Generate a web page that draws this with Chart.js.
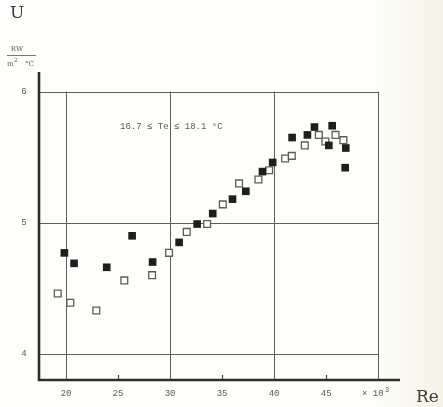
<!DOCTYPE html>
<html>
<head>
<meta charset="utf-8">
<script src="https://cdn.jsdelivr.net/npm/chart.js@4/dist/chart.umd.min.js"></script>
<style>
  html, body { margin: 0; padding: 0; }
  body {
    width: 443px; height: 407px; overflow: hidden;
    background: linear-gradient(to right, #fdfdfb 0%, #fdfdfa 85%, #f9f7ee 93%, #f7f4e7 100%);
  }
  #wrap { position: relative; width: 443px; height: 407px; }
  canvas { display: block; }
</style>
</head>
<body>
<div id="wrap"><canvas id="c" width="443" height="407"></canvas></div>
<script>
// Heat transfer coefficient U versus Reynolds number (x 10^3)
const filledRe = [19.84, 20.77, 23.91, 26.35, 28.32, 30.87, 32.6, 34.1, 36.0, 37.28, 38.88, 39.86, 41.73, 43.2, 43.88, 45.26, 45.58, 46.89, 46.83];
const filledU  = [4.77, 4.69, 4.66, 4.90, 4.70, 4.85, 4.99, 5.07, 5.18, 5.24, 5.39, 5.46, 5.65, 5.67, 5.73, 5.59, 5.74, 5.57, 5.42];
const openRe   = [19.2, 20.41, 22.91, 25.6, 28.27, 29.9, 31.6, 33.56, 35.07, 36.63, 38.49, 39.52, 41.06, 41.7, 42.95, 44.3, 44.93, 45.9, 46.66];
const openU    = [4.46, 4.39, 4.33, 4.56, 4.60, 4.77, 4.93, 4.99, 5.14, 5.30, 5.33, 5.40, 5.49, 5.51, 5.59, 5.67, 5.62, 5.67, 5.63];

const xTickLabels = [20, 25, 30, 35, 40, 45];
const yTickLabels = [4, 5, 6];
const xGridValues = [20, 30, 40, 50];
const xMinorTicks = [25, 35, 45];
const annotationText = '16.7 \u2264 Te \u2264 18.1 \u00B0C';

const toPoints = (xs, ys) => xs.map((x, i) => ({ x: x, y: ys[i] }));

const monoFont = '9px "Liberation Mono", "DejaVu Sans Mono", monospace';
const serifFont = '"DejaVu Serif", "Liberation Serif", serif';

const framePlugin = {
  id: 'frame',
  beforeDatasetsDraw(chart) {
    const { ctx } = chart;
    const xs = chart.scales.x, ys = chart.scales.y;
    const gridTop = ys.getPixelForValue(6);
    const gridRight = xs.getPixelForValue(50);
    const axisX = xs.left, axisY = ys.bottom;
    ctx.save();
    // grid box
    ctx.strokeStyle = '#5e5e5e';
    ctx.lineWidth = 1;
    xGridValues.forEach(v => {
      const px = Math.round(xs.getPixelForValue(v)) + 0.5;
      ctx.beginPath(); ctx.moveTo(px, gridTop); ctx.lineTo(px, axisY); ctx.stroke();
    });
    yTickLabels.forEach(v => {
      const py = Math.round(ys.getPixelForValue(v)) + 0.5;
      ctx.beginPath(); ctx.moveTo(axisX, py); ctx.lineTo(gridRight + 1, py); ctx.stroke();
    });
    // minor ticks on the x axis
    ctx.strokeStyle = '#444';
    ctx.lineWidth = 1.2;
    xMinorTicks.forEach(v => {
      const px = Math.round(xs.getPixelForValue(v)) + 0.5;
      ctx.beginPath(); ctx.moveTo(px, axisY - 5); ctx.lineTo(px, axisY); ctx.stroke();
    });
    // thick axes
    ctx.strokeStyle = '#2e2e2e';
    ctx.lineWidth = 2.6;
    ctx.beginPath(); ctx.moveTo(axisX, ys.top); ctx.lineTo(axisX, axisY); ctx.lineTo(xs.right, axisY); ctx.stroke();
    ctx.restore();
  },
  afterDraw(chart) {
    const { ctx } = chart;
    const xs = chart.scales.x, ys = chart.scales.y;
    ctx.save();
    ctx.fillStyle = '#5a5a5a';
    ctx.font = monoFont;
    ctx.textBaseline = 'middle';
    ctx.textAlign = 'center';
    xTickLabels.forEach(v => ctx.fillText(String(v), xs.getPixelForValue(v), 394));
    yTickLabels.forEach(v => ctx.fillText(String(v), 24, ys.getPixelForValue(v)));
    // multiplier
    ctx.textAlign = 'left';
    ctx.fillText('\u00D7 10', 362, 394);
    ctx.font = '7px "Liberation Mono", "DejaVu Sans Mono", monospace';
    ctx.fillText('3', 385, 390);
    // annotation
    ctx.font = monoFont;
    ctx.fillText(annotationText, 120, 127);
    // unit fraction
    ctx.font = '7px ' + serifFont;
    ctx.textAlign = 'center';
    ctx.fillText('RW', 17, 49);
    ctx.strokeStyle = '#555';
    ctx.lineWidth = 0.8;
    ctx.beginPath(); ctx.moveTo(7, 55.5); ctx.lineTo(36, 55.5); ctx.stroke();
    ctx.textAlign = 'left';
    ctx.fillText('m', 7, 64);
    ctx.font = '6px ' + serifFont;
    ctx.fillText('2', 14, 60);
    ctx.font = '7px ' + serifFont;
    ctx.fillText('\u00B0C', 25, 64);
    // axis titles
    ctx.fillStyle = '#3a3a3a';
    ctx.font = '17px ' + serifFont;
    ctx.fillText('U', 10, 14);
    ctx.font = '17px ' + serifFont;
    ctx.fillText('Re', 416, 398);
    ctx.restore();
  }
};

new Chart(document.getElementById('c'), {
  type: 'scatter',
  data: {
    datasets: [
      {
        label: 'filled',
        data: toPoints(filledRe, filledU),
        pointStyle: 'rect',
        pointRadius: 5.4,
        pointHoverRadius: 5.4,
        backgroundColor: '#1e1e1e',
        borderColor: '#1e1e1e',
        borderWidth: 0,
        order: 0
      },
      {
        label: 'open',
        data: toPoints(openRe, openU),
        pointStyle: 'rect',
        pointRadius: 4.8,
        pointHoverRadius: 4.8,
        backgroundColor: '#ffffff',
        borderColor: '#5c5c5c',
        borderWidth: 1.3,
        order: 1
      }
    ]
  },
  options: {
    responsive: false,
    animation: false,
    events: [],
    layout: { padding: { left: 39, right: 43, top: 72, bottom: 27 } },
    plugins: { legend: { display: false }, tooltip: { enabled: false }, title: { display: false } },
    scales: {
      x: { type: 'linear', min: 17.4, max: 52.1, display: false },
      y: { type: 'linear', min: 3.8, max: 6.15, display: false }
    }
  },
  plugins: [framePlugin]
});
</script>
</body>
</html>
